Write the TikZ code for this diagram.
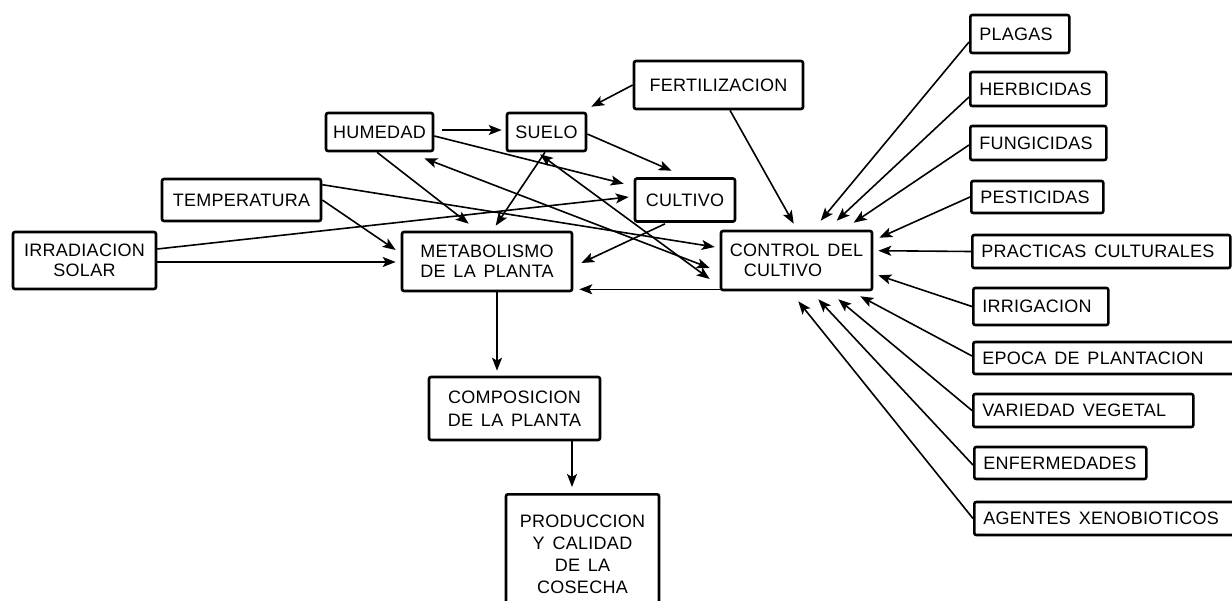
\documentclass[tikz,border=0pt]{standalone}
\usepackage{fontspec}
\newfontfamily\lett[WordSpace=1.5,LetterSpace=1.5]{Liberation Sans}
\usetikzlibrary{arrows.meta,calc}
\begin{document}
\begin{tikzpicture}[x=0.5pt,y=-0.5pt,
  box/.style={draw,line width=1.3pt,rounded corners=1pt,inner sep=0pt,align=center,
    font=\lett\fontsize{9}{10}\selectfont},
  rbox/.style={box,anchor=west,inner xsep=4.5pt,align=left},
  arr/.style={line width=0.8pt,-{Stealth[length=6.5pt,width=5pt,inset=1.5pt]}},
  darr/.style={line width=0.8pt,{Stealth[length=6.5pt,width=5pt,inset=1.5pt]}-{Stealth[length=6.5pt,width=5pt,inset=1.5pt]}}]
\fill[white] (0,0) rectangle (1232,600);
\useasboundingbox (0,0) rectangle (1232,600);

% left / centre nodes
\node[box,minimum width=71.5pt,minimum height=28.5pt] (irr) at (84.5,260.5) {IRRADIACION\\SOLAR};
\node[box,minimum width=79.5pt,minimum height=21pt] (temp) at (241.5,200) {TEMPERATURA};
\node[box,minimum width=53.5pt,minimum height=19pt] (hum) at (379.5,132) {HUMEDAD};
\node[box,minimum width=39.5pt,minimum height=19pt] (suelo) at (546.5,132) {SUELO};
\node[box,minimum width=84.5pt,minimum height=24pt] (fert) at (718.5,85) {FERTILIZACION};
\node[box,minimum width=50pt,minimum height=21.5pt] (cult) at (685,200) {CULTIVO};
\node[box,minimum width=85pt,minimum height=29.5pt] (metab) at (487,261.5) {METABOLISMO\\DE LA PLANTA};
\node[box,minimum width=75.5pt,minimum height=29.5pt,align=left] (ctrl) at (796.5,260.5) {CONTROL DEL\\\hspace*{7pt}CULTIVO};
\node[box,minimum width=85.5pt,minimum height=31.5pt,font=\lett\fontsize{9}{11.5}\selectfont] (comp) at (514.5,408.5) {COMPOSICION\\DE LA PLANTA};
\node[box,anchor=north,minimum width=76.5pt,minimum height=60pt,font=\lett\fontsize{9}{11}\selectfont] (prod) at (582.5,493) {PRODUCCION\\Y CALIDAD\\DE LA\\COSECHA};

% right column
\node[rbox,minimum height=19pt] (plag) at (969,34) {\makebox[40.5pt][l]{PLAGAS}};
\node[rbox,minimum height=17pt] (herb) at (969,89) {\makebox[59pt][l]{HERBICIDAS}};
\node[rbox,minimum height=17pt] (fung) at (969,143) {\makebox[59pt][l]{FUNGICIDAS}};
\node[rbox,minimum height=16pt] (pest) at (970,197) {\makebox[57pt][l]{PESTICIDAS}};
\node[rbox,minimum height=16.5pt] (prac) at (971,251.5) {\makebox[120pt][l]{PRACTICAS CULTURALES}};
\node[rbox,minimum height=18.5pt] (irrig) at (972,306.5) {\makebox[58.5pt][l]{IRRIGACION}};
\node[rbox,minimum height=16pt] (epoca) at (972,358) {\makebox[127.5pt][l]{EPOCA DE PLANTACION}};
\node[rbox,minimum height=16.5pt] (vari) at (972,410.5) {\makebox[101pt][l]{VARIEDAD VEGETAL}};
\node[rbox,minimum height=16pt] (enf) at (973,463) {\makebox[77pt][l]{ENFERMEDADES}};
\node[rbox,minimum height=16.5pt] (agen) at (973,518.5) {\makebox[127pt][l]{AGENTES XENOBIOTICOS}};

% right arrows into control
\draw[arr] ($(plag.west)+(0,8)$) -- ($(ctrl.north west)+(101,-9)$);
\draw[arr] ($(herb.west)+(0,8)$) -- ($(ctrl.north west)+(117,-9)$);
\draw[arr] ($(fung.west)+(0,2)$) -- ($(ctrl.north west)+(134,-7)$);
\draw[arr] (pest.west) -- ($(ctrl.north east)+(6,8)$);
\draw[arr] (prac.west) -- ($(ctrl.north east)+(5,21)$);
\draw[arr] (irrig.west) -- ($(ctrl.south east)+(5,-16)$);
\draw[arr] ($(epoca.west)+(0,-2)$) -- ($(ctrl.south east)+(-13,5)$);
\draw[arr] (vari.west) -- ($(ctrl.south east)+(-35,8)$);
\draw[arr] ($(enf.west)+(0,2)$) -- ($(ctrl.south east)+(-55,8)$);
\draw[arr] (agen.west) -- ($(ctrl.south east)+(-75,10)$);

% left network
\draw[arr] (fert.west) -- ($(suelo.north east)+(4,-5)$);
\draw[arr] ($(fert.south)+(11.5,0)$) -- ($(ctrl.north west)+(74,-6)$);
\draw[arr] ($(hum.east)+(8,-2)$) -- ($(suelo.west)+(-4,-2)$);
\draw[arr] ($(hum.east)+(0,4)$) -- ($(cult.north west)+(-10,6.5)$);
\draw[arr] ($(hum.south)+(-2.5,0)$) -- ($(metab.north west)+(68,-7)$);
\draw[arr] ($(suelo.east)+(0,2)$) -- ($(cult.north west)+(38,-6.5)$);
\draw[arr] ($(suelo.south)+(-1.5,0)$) -- ($(metab.north west)+(95,-5)$);
\draw[darr] ($(hum.south east)+(-10,6)$) -- ($(ctrl.west)+(-10,7.5)$);
\draw[darr] ($(suelo.south)+(-6.5,2)$) -- ($(ctrl.west)+(-10,18.5)$);
\draw[arr] (temp.east) -- ($(metab.west)+(-5,-11.5)$);
\draw[arr] ($(temp.north east)+(0,7)$) -- ($(ctrl.west)+(-5,-13.5)$);
\draw[arr] ($(irr.east)+(0,1.5)$) -- ($(metab.west)+(-5,0.5)$);
\draw[arr] ($(irr.east)+(0,-11.5)$) -- ($(cult.west)+(-5,-3)$);
\draw[arr] ($(cult.south)+(-20,1)$) -- ($(metab.east)+(8,1.5)$);
\draw[arr] ($(ctrl.south west)+(0,-2)$) -- ($(metab.south east)+(6,-3)$);
\draw[arr] ($(metab.south)+(10,0)$) -- ($(comp.north)+(-17.5,-5)$);
\draw[arr] ($(comp.south)+(57.5,0)$) -- ($(prod.north)+(-10.5,-6)$);
\end{tikzpicture}
\end{document}
